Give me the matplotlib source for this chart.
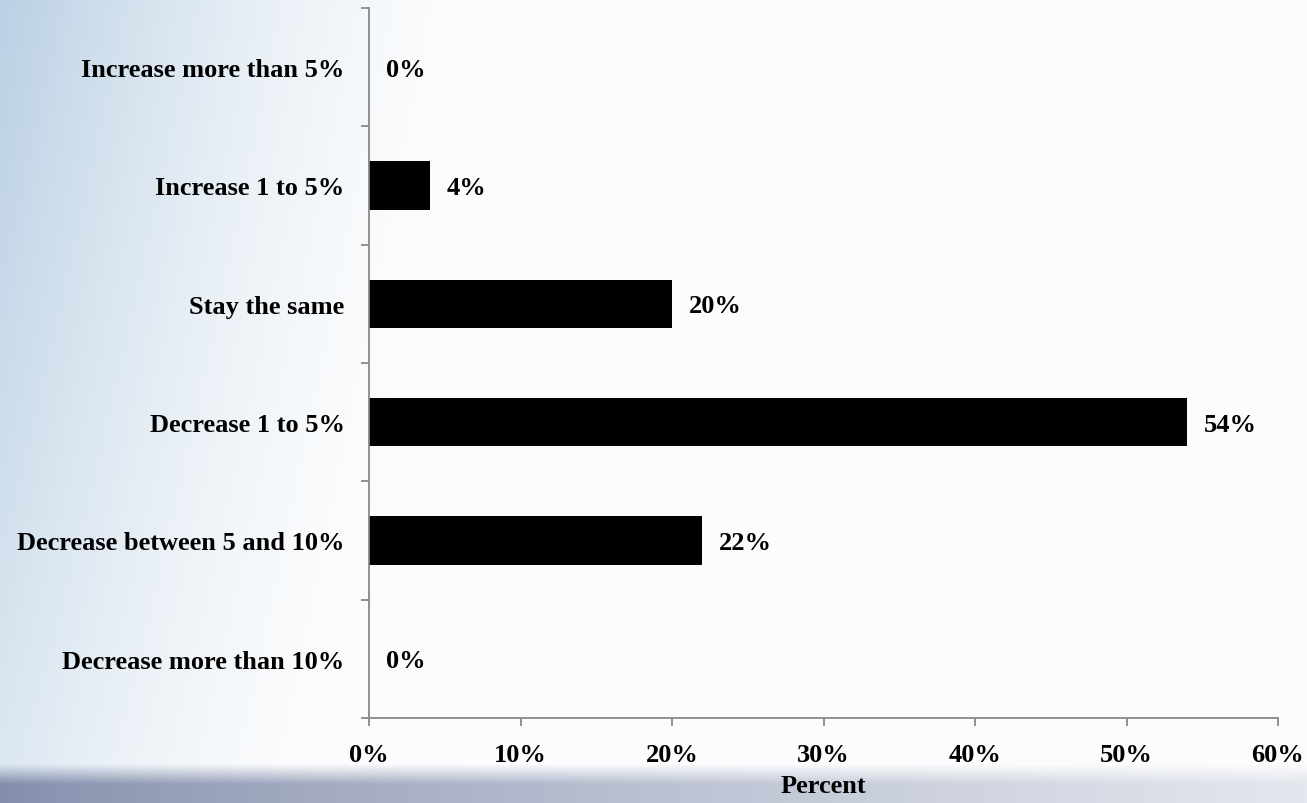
import numpy as np
import matplotlib
matplotlib.use("Agg")
from matplotlib import pyplot as plt

# survey answers, listed top to bottom
categories = ["Increase more than 5%", "Increase 1 to 5%", "Stay the same",
              "Decrease 1 to 5%", "Decrease between 5 and 10%", "Decrease more than 10%"]
percents = [0, 4, 20, 54, 22, 0]
xticks = [0, 10, 20, 30, 40, 50, 60]

plt.rcParams['font.family'] = ['Liberation Serif', 'DejaVu Serif']
plt.rcParams['font.weight'] = 'bold'

W, H = 1307, 804
fig = plt.figure(figsize=(W / 100, H / 100), dpi=100)

# soft sky backdrop: blue haze on the left, grey-blue strip along the bottom
xx = np.linspace(0, 1, W)[None, :]
yy = np.linspace(0, 1, H)[:, None]
sky = np.array([186, 208, 228]) / 255.0
white = np.array([251, 252, 253]) / 255.0
haze = np.clip(1 - xx / (0.36 - 0.12 * yy), 0, 1) ** 1.5 * (1.0 - 0.55 * yy)
haze = np.clip(haze, 0, 1)
img = white[None, None, :] * (1 - haze[..., None]) + sky[None, None, :] * haze[..., None]
ground_l = np.array([132, 142, 172]) / 255.0
ground_r = np.array([228, 231, 238]) / 255.0
ground = ground_l[None, None, :] * (1 - xx[..., None] ** 0.8) + ground_r[None, None, :] * xx[..., None] ** 0.8
g = np.clip((yy - 0.952) / 0.025, 0, 1)[..., None]
img = img * (1 - g) + ground * g
bg = fig.add_axes([0, 0, 1, 1], zorder=-1)
bg.imshow(img, aspect='auto', extent=[0, 1, 0, 1], origin='upper')
bg.axis('off')

ax = fig.add_axes([369 / W, 1 - 719 / H, (1278 - 369) / W, (719 - 9) / H])
ax.patch.set_alpha(0)

pos = np.arange(len(categories))
ax.barh(pos, percents, height=0.41, color='black')
for p, v in zip(pos, percents):
    ax.annotate(f"{v}%", xy=(v, p), xytext=(12, -1.5), textcoords='offset points',
                va='center', ha='left', fontsize=19, fontweight='bold')

ax.set_xlim(0, 60)
ax.set_ylim(len(categories) - 0.5, -0.5)
ax.set_xticks(xticks)
ax.set_xticklabels([f"{t}%" for t in xticks])
ax.set_yticks(np.arange(len(categories) + 1) - 0.5)
ax.set_yticklabels([])
ax.set_yticks(pos, minor=True)
ax.set_yticklabels(categories, minor=True)
ax.tick_params(axis='y', which='minor', length=0, pad=17.5, labelsize=19)
ax.tick_params(axis='y', which='major', length=6, color='#888888', width=1.3)
ax.tick_params(axis='x', length=6, color='#888888', width=1.3, pad=12, labelsize=19)
ax.set_xlabel("Percent", fontsize=19, fontweight='bold', labelpad=6)

for s in ['top', 'right']:
    ax.spines[s].set_visible(False)
for s in ['left', 'bottom']:
    ax.spines[s].set_color('#888888')
    ax.spines[s].set_linewidth(1.3)

fig.savefig("out.png", dpi=100)
